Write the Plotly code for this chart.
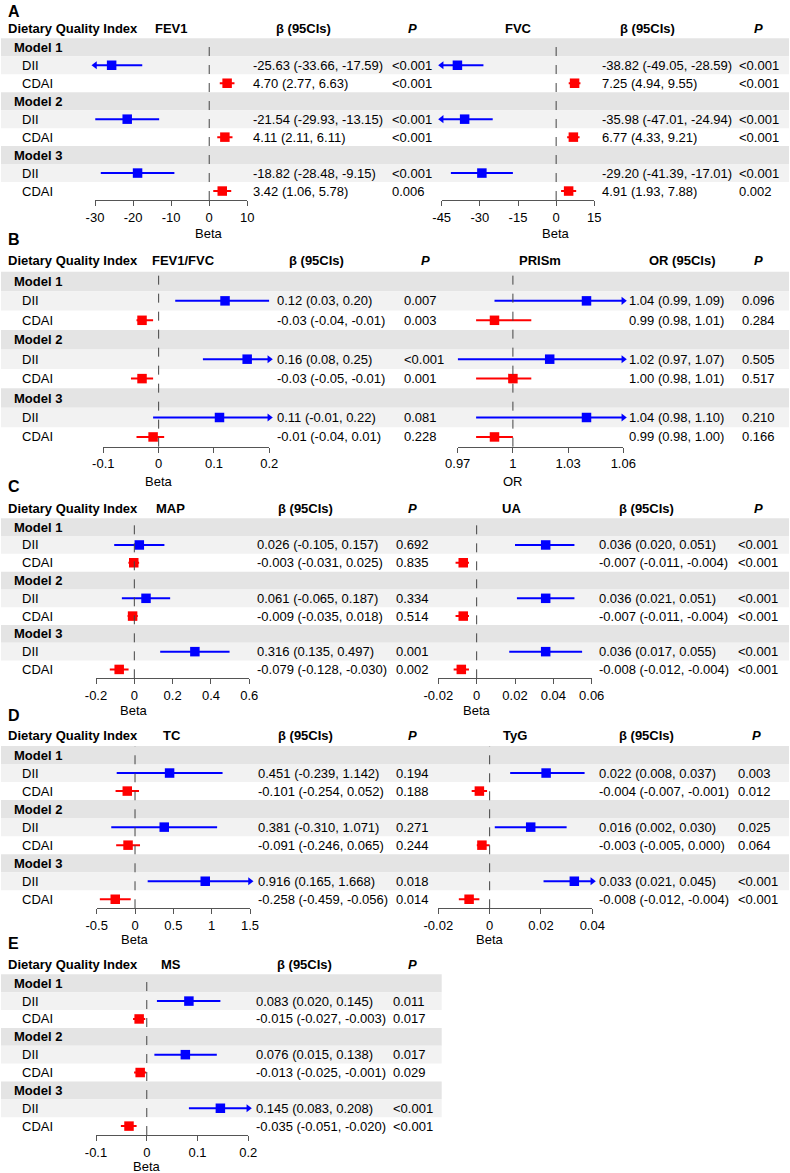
import plotly.graph_objects as go

W, H = 790, 1173
FONT = "Liberation Sans, Arial, Helvetica, sans-serif"

groups = ["Model 1", "Model 2", "Model 3"]
indices = ["DII", "CDAI"]

# ---------------- data ----------------
fev1_est = [-25.63, 4.70, -21.54, 4.11, -18.82, 3.42]
fev1_lo = [-33.66, 2.77, -29.93, 2.11, -28.48, 1.06]
fev1_hi = [-17.59, 6.63, -13.15, 6.11, -9.15, 5.78]
fev1_p = ["<0.001", "<0.001", "<0.001", "<0.001", "<0.001", "0.006"]
fev1_ticks = [-30, -20, -10, 0, 10]
fev1_ticklabels = ["-30", "-20", "-10", "0", "10"]

fvc_est = [-38.82, 7.25, -35.98, 6.77, -29.20, 4.91]
fvc_lo = [-49.05, 4.94, -47.01, 4.33, -41.39, 1.93]
fvc_hi = [-28.59, 9.55, -24.94, 9.21, -17.01, 7.88]
fvc_p = ["<0.001", "<0.001", "<0.001", "<0.001", "<0.001", "0.002"]
fvc_ticks = [-45, -30, -15, 0, 15]
fvc_ticklabels = ["-45", "-30", "-15", "0", "15"]

ratio_est = [0.12, -0.03, 0.16, -0.03, 0.11, -0.01]
ratio_lo = [0.03, -0.04, 0.08, -0.05, -0.01, -0.04]
ratio_hi = [0.20, -0.01, 0.25, -0.01, 0.22, 0.01]
ratio_p = ["0.007", "0.003", "<0.001", "0.001", "0.081", "0.228"]
ratio_ticks = [-0.1, 0, 0.1, 0.2]
ratio_ticklabels = ["-0.1", "0", "0.1", "0.2"]

prism_est = [1.04, 0.99, 1.02, 1.00, 1.04, 0.99]
prism_lo = [0.99, 0.98, 0.97, 0.98, 0.98, 0.98]
prism_hi = [1.09, 1.01, 1.07, 1.01, 1.10, 1.00]
prism_p = ["0.096", "0.284", "0.505", "0.517", "0.210", "0.166"]
prism_ticks = [0.97, 1.0, 1.03, 1.06]
prism_ticklabels = ["0.97", "1", "1.03", "1.06"]

map_est = [0.026, -0.003, 0.061, -0.009, 0.316, -0.079]
map_lo = [-0.105, -0.031, -0.065, -0.035, 0.135, -0.128]
map_hi = [0.157, 0.025, 0.187, 0.018, 0.497, -0.030]
map_p = ["0.692", "0.835", "0.334", "0.514", "0.001", "0.002"]
map_ticks = [-0.2, 0, 0.2, 0.4, 0.6]
map_ticklabels = ["-0.2", "0", "0.2", "0.4", "0.6"]

ua_est = [0.036, -0.007, 0.036, -0.007, 0.036, -0.008]
ua_lo = [0.020, -0.011, 0.021, -0.011, 0.017, -0.012]
ua_hi = [0.051, -0.004, 0.051, -0.004, 0.055, -0.004]
ua_p = ["<0.001", "<0.001", "<0.001", "<0.001", "<0.001", "<0.001"]
ua_ticks = [-0.02, 0, 0.02, 0.04, 0.06]
ua_ticklabels = ["-0.02", "0", "0.02", "0.04", "0.06"]

tc_est = [0.451, -0.101, 0.381, -0.091, 0.916, -0.258]
tc_lo = [-0.239, -0.254, -0.310, -0.246, 0.165, -0.459]
tc_hi = [1.142, 0.052, 1.071, 0.065, 1.668, -0.056]
tc_p = ["0.194", "0.188", "0.271", "0.244", "0.018", "0.014"]
tc_ticks = [-0.5, 0, 0.5, 1, 1.5]
tc_ticklabels = ["-0.5", "0", "0.5", "1", "1.5"]

tyg_est = [0.022, -0.004, 0.016, -0.003, 0.033, -0.008]
tyg_lo = [0.008, -0.007, 0.002, -0.005, 0.021, -0.012]
tyg_hi = [0.037, -0.001, 0.030, 0.000, 0.045, -0.004]
tyg_p = ["0.003", "0.012", "0.025", "0.064", "<0.001", "<0.001"]
tyg_ticks = [-0.02, 0, 0.02, 0.04]
tyg_ticklabels = ["-0.02", "0", "0.02", "0.04"]

ms_est = [0.083, -0.015, 0.076, -0.013, 0.145, -0.035]
ms_lo = [0.020, -0.027, 0.015, -0.025, 0.083, -0.051]
ms_hi = [0.145, -0.003, 0.138, -0.001, 0.208, -0.020]
ms_p = ["0.011", "0.017", "0.017", "0.029", "<0.001", "<0.001"]
ms_ticks = [-0.1, 0, 0.1, 0.2]
ms_ticklabels = ["-0.1", "0", "0.1", "0.2"]

# ---------------- layout specs (pixel positions) ----------------
panels = [
    dict(letter="A", top=38.3, rowh=17.97, head_y=28, letter_y=12, right=789, xlab_y=233),
    dict(letter="B", top=271.7, rowh=19.44, head_y=260.7, letter_y=240, right=789, xlab_y=481.7),
    dict(letter="C", top=518.3, rowh=17.78, head_y=508.3, letter_y=486.7, right=789, xlab_y=710),
    dict(letter="D", top=746.0, rowh=18.03, head_y=735, letter_y=715, right=789, xlab_y=939),
    dict(letter="E", top=974.3, rowh=17.86, head_y=964, letter_y=943, right=441.7, xlab_y=1166),
]

forests = [
    dict(panel=0, name="FEV1", est=fev1_est, lo=fev1_lo, hi=fev1_hi, p=fev1_p, dec=2,
         ticks=fev1_ticks, ticklabels=fev1_ticklabels, px=(95, 247.3), est_x=253, p_x=392,
         title_x=171, col_x=303, p_hx=412, col="β (95CIs)", xlab="Beta", ref=0),
    dict(panel=0, name="FVC", est=fvc_est, lo=fvc_lo, hi=fvc_hi, p=fvc_p, dec=2,
         ticks=fvc_ticks, ticklabels=fvc_ticklabels, px=(441.7, 594.3), est_x=601.7, p_x=739,
         title_x=518, col_x=647, p_hx=758, col="β (95CIs)", xlab="Beta", ref=0),
    dict(panel=1, name="FEV1/FVC", est=ratio_est, lo=ratio_lo, hi=ratio_hi, p=ratio_p, dec=2,
         ticks=ratio_ticks, ticklabels=ratio_ticklabels, px=(103.3, 269.3), est_x=276.7, p_x=404,
         title_x=183, col_x=316.7, p_hx=425, col="β (95CIs)", xlab="Beta", ref=0),
    dict(panel=1, name="PRISm", est=prism_est, lo=prism_lo, hi=prism_hi, p=prism_p, dec=2,
         ticks=prism_ticks, ticklabels=prism_ticklabels, px=(457.7, 623.3), est_x=629.3, p_x=742.3,
         title_x=540, col_x=681.7, p_hx=758.3, col="OR (95CIs)", xlab="OR", ref=1),
    dict(panel=2, name="MAP", est=map_est, lo=map_lo, hi=map_hi, p=map_p, dec=3,
         ticks=map_ticks, ticklabels=map_ticklabels, px=(96, 249.3), est_x=257.3, p_x=396,
         title_x=170.8, col_x=305.8, p_hx=412.3, col="β (95CIs)", xlab="Beta", ref=0),
    dict(panel=2, name="UA", est=ua_est, lo=ua_lo, hi=ua_hi, p=ua_p, dec=3,
         ticks=ua_ticks, ticklabels=ua_ticklabels, px=(438.3, 591.7), est_x=599.3, p_x=738.3,
         title_x=511.7, col_x=646.7, p_hx=758.3, col="β (95CIs)", xlab="Beta", ref=0),
    dict(panel=3, name="TC", est=tc_est, lo=tc_lo, hi=tc_hi, p=tc_p, dec=3,
         ticks=tc_ticks, ticklabels=tc_ticklabels, px=(96.7, 250), est_x=258.3, p_x=396,
         title_x=171.7, col_x=305.8, p_hx=412.3, col="β (95CIs)", xlab="Beta", ref=0),
    dict(panel=3, name="TyG", est=tyg_est, lo=tyg_lo, hi=tyg_hi, p=tyg_p, dec=3,
         ticks=tyg_ticks, ticklabels=tyg_ticklabels, px=(438.3, 592.3), est_x=599.3, p_x=737.7,
         title_x=515, col_x=646.7, p_hx=756.7, col="β (95CIs)", xlab="Beta", ref=0),
    dict(panel=4, name="MS", est=ms_est, lo=ms_lo, hi=ms_hi, p=ms_p, dec=3,
         ticks=ms_ticks, ticklabels=ms_ticklabels, px=(96, 248.3), est_x=256, p_x=392.7,
         title_x=170.8, col_x=304, p_hx=412.7, col="β (95CIs)", xlab="Beta", ref=0),
]

BLUE, RED = "#0000FF", "#FF0000"
MODEL_BG, DII_BG = "#E4E4E4", "#F2F2F2"
AXIS_C = "#555555"


def py(y):
    return 1 - y / H


def pxx(x):
    return x / W


fig = go.Figure()
shapes = []
annotations = []


def text(x, y, s, size=13, anchor="left", bold=False, xref="paper", color="#000"):
    annotations.append(dict(
        x=x if xref != "paper" else pxx(x), y=py(y), xref=xref, yref="paper",
        text=f"<b>{s}</b>" if bold else s, showarrow=False,
        xanchor=anchor, yanchor="middle", font=dict(family=FONT, size=size, color=color)))


# panel backgrounds, row labels, headers
for pn in panels:
    top, rh = pn["top"], pn["rowh"]
    for r in range(9):
        kind = r % 3
        if kind == 2:
            continue
        shapes.append(dict(type="rect", xref="paper", yref="paper", layer="below",
                           x0=pxx(1), x1=pxx(pn["right"]),
                           y0=py(top + (r + 1) * rh), y1=py(top + r * rh),
                           fillcolor=MODEL_BG if kind == 0 else DII_BG, line=dict(width=0)))
    for m, g in enumerate(groups):
        text(12, top + (3 * m + 0.5) * rh, g, bold=True)
        for j, idx in enumerate(indices):
            text(19.5, top + (3 * m + 1 + j + 0.5) * rh, idx)
    text(6, pn["head_y"], "Dietary Quality Index", bold=True)
    text(6, pn["letter_y"], pn["letter"], size=16, bold=True)

# forests
for i, f in enumerate(forests, start=1):
    pn = panels[f["panel"]]
    top, rh = pn["top"], pn["rowh"]
    bottom = top + 9 * rh
    xa = "xaxis" if i == 1 else f"xaxis{i}"
    ya = "yaxis" if i == 1 else f"yaxis{i}"
    xr = "x" if i == 1 else f"x{i}"
    yr = "y" if i == 1 else f"y{i}"
    rng = [f["ticks"][0], f["ticks"][-1]]
    fig.layout[xa] = dict(
        domain=[pxx(f["px"][0]), pxx(f["px"][1])], range=rng, anchor=yr,
        showline=True, linecolor=AXIS_C, linewidth=1, ticks="outside", ticklen=5,
        tickcolor=AXIS_C, tickwidth=1, tickvals=f["ticks"], ticktext=f["ticklabels"],
        showgrid=False, zeroline=False, fixedrange=True, automargin=False,
        tickfont=dict(family=FONT, size=13, color="#000"))
    fig.layout[ya] = dict(domain=[py(bottom), py(top)], range=[9, 0], visible=False,
                          anchor=xr, fixedrange=True, automargin=False)

    # reference line
    shapes.append(dict(type="line", xref=xr, yref=f"{yr} domain", x0=f["ref"], x1=f["ref"],
                       y0=0, y1=1, line=dict(color="#444444", width=1, dash="dash")))

    for col_k, color in ((0, BLUE), (1, RED)):
        lx, ly, ax_l, ay_l, ax_r, ay_r, mx, my = [], [], [], [], [], [], [], []
        for k in range(6):
            if k % 2 != col_k:
                continue
            yc = 3 * (k // 2) + 1 + (k % 2) + 0.5
            lo, hi, est = f["lo"][k], f["hi"][k], f["est"][k]
            x0 = max(lo, rng[0])
            x1 = min(hi, rng[1])
            lx += [x0, x1, None]
            ly += [yc, yc, None]
            if lo < rng[0]:
                ax_l.append(rng[0]); ay_l.append(yc)
            if hi > rng[1]:
                ax_r.append(rng[1]); ay_r.append(yc)
            mx.append(est); my.append(yc)
        fig.add_trace(go.Scatter(x=lx, y=ly, xaxis=xr, yaxis=yr, mode="lines",
                                 line=dict(color=color, width=2), hoverinfo="skip",
                                 showlegend=False, cliponaxis=False))
        for ax_, ay_, sym in ((ax_l, ay_l, "triangle-left"), (ax_r, ay_r, "triangle-right")):
            if ax_:
                fig.add_trace(go.Scatter(x=ax_, y=ay_, xaxis=xr, yaxis=yr, mode="markers",
                                         marker=dict(symbol=sym, size=7, color=color,
                                                     line=dict(width=0)),
                                         hoverinfo="skip", showlegend=False, cliponaxis=False))
        fig.add_trace(go.Scatter(x=mx, y=my, xaxis=xr, yaxis=yr, mode="markers",
                                 marker=dict(symbol="square", size=9.5, color=color,
                                             line=dict(width=0)),
                                 showlegend=False, cliponaxis=False))

    # estimate and P columns
    d = f["dec"]
    for k in range(6):
        yc = top + (3 * (k // 2) + 1 + (k % 2) + 0.5) * rh
        s = f"{f['est'][k]:.{d}f} ({f['lo'][k]:.{d}f}, {f['hi'][k]:.{d}f})"
        text(f["est_x"] - 2, yc, s)
        text(f["p_x"] - 2, yc, f["p"][k])

    # headers
    text(f["title_x"], pn["head_y"], f["name"], anchor="center", bold=True)
    text(f["col_x"], pn["head_y"], f["col"], anchor="center", bold=True)
    text(f["p_hx"], pn["head_y"], "<i>P</i>", anchor="center", bold=True)
    # x-axis title
    text(f["ref"], pn["xlab_y"], f["xlab"], anchor="center", xref=xr)

fig.update_layout(
    width=W, height=H, autosize=False,
    margin=dict(l=0, r=0, t=0, b=0, pad=0, autoexpand=False),
    paper_bgcolor="white", plot_bgcolor="rgba(0,0,0,0)",
    shapes=shapes, annotations=annotations, showlegend=False,
    font=dict(family=FONT, size=13, color="#000"),
)

fig.write_html(
    "out.html",
    config={"displayModeBar": False, "staticPlot": True},
    post_script="document.body.style.margin='0px';document.body.style.overflow='hidden';",
)
